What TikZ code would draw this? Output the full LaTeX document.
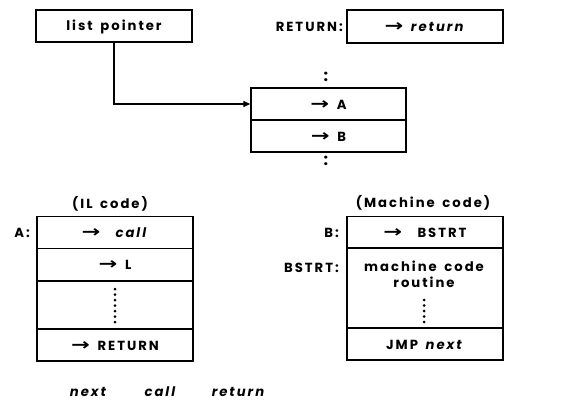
\documentclass[tikz,border=0pt]{standalone}
\usepackage{fontspec}
\setmainfont{Poppins}[LetterSpace=15, WordSpace={1.6}]
\newfontfamily\arr{DejaVu Sans}[BoldFont={DejaVu Sans Bold}]
\usetikzlibrary{arrows.meta}
\newcommand{\ar}{{\arr\bfseries\raisebox{-0.3pt}{\scalebox{1.7}[1.25]{→}}}}
\begin{document}
\begin{tikzpicture}[x=1pt,y=-1pt,
  cell/.style={draw, line width=1.4pt, inner sep=0pt, minimum width=156pt, font=\fontsize{13.2}{15}\selectfont\bfseries, align=center, text height=10pt, text depth=0pt},
  lbl/.style={inner sep=0pt, font=\fontsize{13.2}{15}\selectfont\bfseries, text height=10pt, text depth=0pt},
  colon/.style={inner sep=0pt, font=\fontsize{16}{16}\selectfont\bfseries},
  dot/.style={circle, fill, inner sep=0pt, minimum size=3pt}]
\useasboundingbox (0,0) rectangle (586,404);
% top
\node[cell, minimum height=32pt] (lp) at (114,26) {list pointer};
\node[cell, minimum height=33pt] (ret) at (425,26.5) {\ar\ \textit{return}};
\node[lbl, anchor=east] (retl) at (343,27) {RETURN:};
% middle list
\node[cell, minimum width=155pt, minimum height=32pt] (rA) at (328.5,104) {\ar\ A};
\node[cell, minimum width=155pt, minimum height=32pt] (rB) at (328.5,136) {\ar\ B};
\node[colon] (c1) at (326,77) {:};
\node[colon] (c2) at (326,161) {:};
\draw[line width=1.4pt, -{Triangle[length=7pt,width=6pt]}] (lp.south) |- (rA.west);
% IL code
\node[lbl] (ilt) at (110,203) {(IL code)};
\node[lbl, anchor=east] (al) at (30,232) {A:};
\node[cell, minimum height=31.5pt] (i1) at (115,232.5) {\ar\ \ \textit{call}};
\node[cell, minimum height=32.5pt] (i2) at (115,264.5) {\ar\ L};
\node[cell, minimum height=48pt] (i3) at (115,305) {};
\node[cell, minimum height=32pt] (i4) at (115,345) {\ar\ RETURN};
\foreach \k in {0,...,6} \node[dot] at (115,289+5.5*\k) {};
% Machine code
\node[lbl] (mct) at (423,202) {(Machine code)};
\node[lbl, anchor=east] (bl) at (339,232) {B:};
\node[lbl, anchor=east] (bsl) at (339,267) {BSTRT:};
\node[cell, minimum height=31.5pt] (m1) at (425,232.5) {\ar\ \ BSTRT};
\node[cell, minimum height=80pt] (m2) at (425,288) {};
\node[lbl] (mt1) at (424,266) {machine code};
\node[lbl] (mt2) at (424,282) {routine};
\foreach \k in {0,...,4} \node[dot] at (424,300+5.5*\k) {};
\node[cell, minimum height=32pt] (m3) at (425,344) {JMP \textit{next}};
% bottom words
\node[lbl] (w1) at (89,391) {\textit{next}};
\node[lbl] (w2) at (161,391) {\textit{call}};
\node[lbl] (w3) at (239,391) {\textit{return}};
\end{tikzpicture}
\end{document}
